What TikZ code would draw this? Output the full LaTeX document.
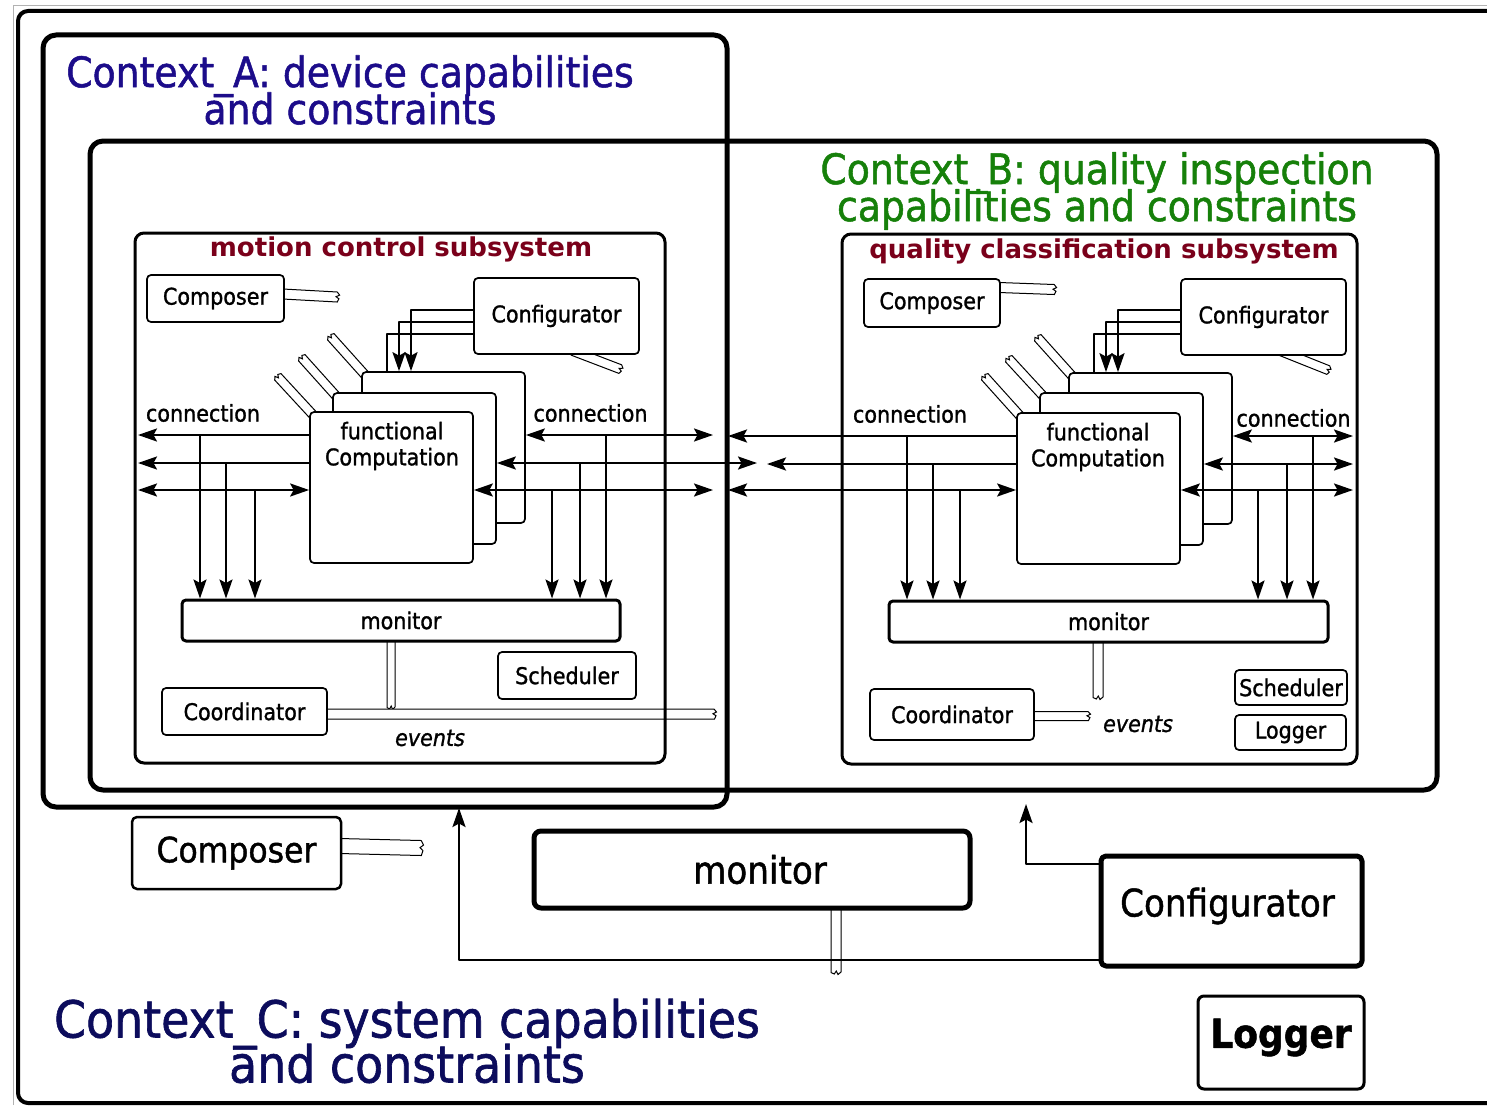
\documentclass[tikz,border=0pt]{standalone}
\usepackage{fontspec}
\setmainfont{DejaVu Sans Condensed}[FakeBold=1.2]
\newfontfamily\widefont{DejaVu Sans}
\usetikzlibrary{arrows.meta,calc}
\pgfdeclarelayer{sig}
\pgfsetlayers{sig,main}
\definecolor{ctxA}{RGB}{28,12,138}
\definecolor{ctxB}{RGB}{22,128,10}
\definecolor{ctxC}{RGB}{12,12,92}
\definecolor{subred}{RGB}{122,0,26}
\newcommand\fsz[1]{\fontsize{#1}{#1}\selectfont}
\newcommand\tightfont[2]{\fontsize{#1}{#2}\selectfont\lineskiplimit=-100pt\relax}
% double-line signal band with a torn end: [half width]{start}{end}
\newcommand\sigband[3][4.5]{%
  \draw[band] let \p1=($(#3)-(#2)$), \n1={atan2(\y1,\x1)} in
    ($(#2)+(\n1+90:#1pt)$) -- ($(#3)+(\n1+90:#1pt)$)
    -- ($(#3)+(\n1:2.5pt)+(\n1+90:0.4*#1pt)$)
    -- ($(#3)+(\n1:-1pt)+(\n1+90:0.05*#1pt)$)
    -- ($(#3)+(\n1:2pt)+(\n1-90:0.35*#1pt)$)
    -- ($(#3)+(\n1:0.5pt)+(\n1-90:#1pt)$)
    -- ($(#2)+(\n1-90:#1pt)$);}

\begin{document}
\begin{tikzpicture}[x=1pt,y=-1pt,line join=round,
  >={Stealth[length=19pt,width=13pt,inset=3.5pt]},
  ctx/.style={draw,line width=5pt,rounded corners=13pt},
  subsys/.style={draw,line width=3pt,rounded corners=9pt,inner sep=0pt},
  sbox/.style={draw,line width=1.7pt,rounded corners=4pt,fill=white,inner sep=0pt,text=black,font=\fsz{23}},
  mon/.style={sbox,line width=3pt,rounded corners=4pt},
  wh/.style 2 args={minimum width=#1,minimum height=#2},
  conn/.style={line width=2.3pt},
  band/.style={line width=1pt,fill=white},
  lbl/.style={inner sep=0pt,font=\fsz{23}},
  ctitle/.style={inner sep=0pt,align=center},
  stitle/.style={inner sep=0pt,font=\widefont\bfseries\fsz{26},text=subred}]
\useasboundingbox (0,0) rectangle (1487,1105);

% Context_C frame
\draw[gray!60,line width=1pt] (13.5,1105) -- (13.5,5.5) -- (1487,5.5);
\draw[line width=4pt,rounded corners=10pt] (18,11) rectangle (1540,1103);

% Context_A and Context_B frames
\draw[ctx] (43,35) rectangle (727,807);
\draw[ctx] (90,141) rectangle (1437,790);

\node[ctitle,text=ctxA,font=\tightfont{42}{37}] (titleA) at (350,90)
  {Context\_A: device capabilities\\and constraints};
\node[ctitle,text=ctxB,font=\tightfont{42}{37}] (titleB) at (1097,191)
  {Context\_B: quality inspection\\capabilities and constraints};
\node[ctitle,text=ctxC,font=\tightfont{51}{45}] (titleC) at (407,1041)
  {Context\_C: system capabilities\\and constraints};

% ---------- motion control subsystem ----------
\node[subsys,wh={530}{530}] (lsub) at (400,498) {};
\node[stitle] (lsubt) at (401,249) {motion control subsystem};
\node[sbox,wh={137}{47}] (lcomp) at (215.5,298.5) {Composer};
\node[sbox,wh={165}{76}] (lcfg) at (556.5,316) {Configurator};
\node[sbox,wh={163}{151}] (lback) at (443.5,447.5) {};
\node[sbox,wh={163}{151}] (lmid) at (414.5,468.5) {};
\node[sbox,wh={163}{151}] (lfront) at (391.5,487.5) {};
\node[lbl,align=center,font=\fontsize{23}{26}\selectfont] (lftxt) at (392,446) {functional\\Computation};
\node[mon,wh={438}{41}] (lmon) at (401,620.5) {monitor};
\node[sbox,wh={138}{47}] (lsched) at (567,675.5) {Scheduler};
\node[sbox,wh={165}{47}] (lcoord) at (244.5,711.5) {Coordinator};
\node[lbl] (lconnL) at (203,413) {connection};
\node[lbl] (lconnR) at (590.5,413) {connection};
\node[lbl,font=\itshape\fsz{23}] (levents) at (430,738) {events};

% ---------- quality classification subsystem ----------
\node[subsys,wh={515}{530}] (rsub) at (1099.5,499) {};
\node[stitle] (rsubt) at (1104,251) {quality classification subsystem};
\node[sbox,wh={136}{48}] (rcomp) at (932,303) {Composer};
\node[sbox,wh={165}{76}] (rcfg) at (1263.5,317) {Configurator};
\node[sbox,wh={163}{151}] (rback) at (1150.5,448.5) {};
\node[sbox,wh={163}{152}] (rmid) at (1121.5,469) {};
\node[sbox,wh={163}{151}] (rfront) at (1098.5,488.5) {};
\node[lbl,align=center,font=\fontsize{23}{26}\selectfont] (rftxt) at (1098,447) {functional\\Computation};
\node[mon,wh={439}{41}] (rmon) at (1108.5,621.5) {monitor};
\node[sbox,wh={164}{51}] (rcoord) at (952,714.5) {Coordinator};
\node[sbox,wh={112}{35}] (rsched) at (1291,687.5) {Scheduler};
\node[sbox,wh={111}{35}] (rlog) at (1290.5,732.5) {Logger};
\node[lbl] (rconnL) at (910,414) {connection};
\node[lbl] (rconnR) at (1293.5,418) {connection};
\node[lbl,font=\itshape\fsz{23}] (revents) at (1138,724) {events};

% ---------- system level ----------
\node[sbox,line width=2.5pt,rounded corners=5pt,wh={209}{72},font=\fsz{35}] (ccomp) at (236.5,853) {Composer};
\node[sbox,line width=5pt,rounded corners=7pt,wh={436}{77},font=\fsz{38}] (cmon) at (752,869.5) {\hspace*{16pt}monitor};
\node[sbox,line width=5pt,rounded corners=5pt,wh={261}{110},
  label={[name=ccfgtxt,font=\fsz{38},yshift=5pt,xshift=-4pt]center:Configurator}] (ccfg) at (1231.5,911) {};
\node[sbox,line width=3pt,rounded corners=6pt,wh={166}{93},
  label={[name=clogtxt,font=\bfseries\fsz{40},yshift=5pt]center:Logger}] (clog) at (1281,1042.5) {};

% ---------- signal bands ----------
\coordinate (lcompS) at ($(lcomp.east)+(-2,-4.5)$);   \coordinate (lcompZ) at (337,297);
\coordinate (lcfgS) at ($(lcfg.south)+(16,-4)$);      \coordinate (lcfgZ) at (620,369);
\coordinate (lbackS) at ($(lback.north west)+(5,5)$); \coordinate (lbackZ) at (331,337);
\coordinate (lmidS) at ($(lmid.north west)+(5,5)$);   \coordinate (lmidZ) at (302,358);
\coordinate (lfrontS) at ($(lfront.north west)+(5,5)$); \coordinate (lfrontZ) at (278,377);
\coordinate (lmonS) at ($(lmon.south)+(-10,-3)$);     \coordinate (lmonZ) at (391,707);
\coordinate (lcoordS) at ($(lcoord.east)+(-3,2.5)$);  \coordinate (lcoordZ) at (714,714);
\coordinate (rcompS) at ($(rcomp.east)+(-2,-15.5)$);  \coordinate (rcompZ) at (1054,289.5);
\coordinate (rcfgS) at ($(rcfg.south)+(16.5,-5)$);    \coordinate (rcfgZ) at (1328,370);
\coordinate (rbackS) at ($(rback.north west)+(5,5)$); \coordinate (rbackZ) at (1038,338);
\coordinate (rmidS) at ($(rmid.north west)+(5,5)$);   \coordinate (rmidZ) at (1009,359);
\coordinate (rfrontS) at ($(rfront.north west)+(5,5)$); \coordinate (rfrontZ) at (985,377);
\coordinate (rmonS) at ($(rmon.south)+(-10.5,-3)$);   \coordinate (rmonZ) at (1098,697);
\coordinate (rcoordS) at ($(rcoord.east)+(-3,1.5)$);  \coordinate (rcoordZ) at (1088,716);
\coordinate (ccompS) at ($(ccomp.east)+(-3,-7)$);     \coordinate (ccompZ) at (421,848);
\coordinate (cmonS) at ($(cmon.south)+(84,-3)$);      \coordinate (cmonZ) at (836,972);
\begin{pgfonlayer}{sig}
  \sigband[5]{lcompS}{lcompZ}
  \sigband{lcfgS}{lcfgZ}
  \sigband{lbackS}{lbackZ}
  \sigband{lmidS}{lmidZ}
  \sigband{lfrontS}{lfrontZ}
  \sigband[4]{lmonS}{lmonZ}
  \sigband[5]{lcoordS}{lcoordZ}
  \sigband[5]{rcompS}{rcompZ}
  \sigband{rcfgS}{rcfgZ}
  \sigband{rbackS}{rbackZ}
  \sigband{rmidS}{rmidZ}
  \sigband{rfrontS}{rfrontZ}
  \sigband[5]{rmonS}{rmonZ}
  \sigband{rcoordS}{rcoordZ}
  \sigband[7.5]{ccompS}{ccompZ}
  \sigband[5]{cmonS}{cmonZ}
\end{pgfonlayer}

% ---------- configurator links into the computation stack ----------
\draw[conn,->] ($(lcfg.west)+(0,-6)$) -| ($(lback.north)+(-32.5,0)$);
\draw[conn,->] ($(lcfg.west)+(0,6)$) -| ($(lback.north)+(-44.5,0)$);
\draw[conn] ($(lcfg.west)+(0,18)$) -| ($(lback.north)+(-56.5,0)$);
\draw[conn,->] ($(rcfg.west)+(0,-7)$) -| ($(rback.north)+(-32.5,0)$);
\draw[conn,->] ($(rcfg.west)+(0,5)$) -| ($(rback.north)+(-44.5,0)$);
\draw[conn] ($(rcfg.west)+(0,17)$) -| ($(rback.north)+(-56.5,0)$);

% ---------- connections, motion control ----------
\coordinate (lrow1) at (0,435); \coordinate (lrow2) at (0,463); \coordinate (lrow3) at (0,490);
\coordinate (lin) at (138,0);
\coordinate (lx1) at (713,435); \coordinate (lx2) at (757,463); \coordinate (lx3) at (713,490);
\draw[conn,->] (lfront.west |- lrow1) -- (lin |- lrow1);
\draw[conn,->] (lfront.west |- lrow2) -- (lin |- lrow2);
\draw[conn,<->] (lin |- lrow3) -- (lfront.west |- lrow3);
\draw[conn,<->] (lback.east |- lrow1) -- (lx1);
\draw[conn,<->] (lmid.east |- lrow2) -- (lx2);
\draw[conn,<->] (lfront.east |- lrow3) -- (lx3);
\foreach \x/\r in {200/1,226/2,255/3,606/1,580/2,552/3}
  \draw[conn,->] (\x,0 |- lrow\r) -- (\x,0 |- lmon.north);

% ---------- connections, quality classification ----------
\coordinate (rrow1) at (0,436); \coordinate (rrow2) at (0,464); \coordinate (rrow3) at (0,490);
\coordinate (rin) at (1353,0);
\coordinate (rx1) at (728,436); \coordinate (rx2) at (767,464); \coordinate (rx3) at (728,490);
\draw[conn,->] (rfront.west |- rrow1) -- (rx1);
\draw[conn,->] (rfront.west |- rrow2) -- (rx2);
\draw[conn,<->] (rx3) -- (rfront.west |- rrow3);
\draw[conn,<->] (rback.east |- rrow1) -- (rin |- rrow1);
\draw[conn,<->] (rmid.east |- rrow2) -- (rin |- rrow2);
\draw[conn,<->] (rfront.east |- rrow3) -- (rin |- rrow3);
\foreach \x/\r in {907/1,933/2,960/3,1313/1,1287/2,1258/3}
  \draw[conn,->] (\x,0 |- rrow\r) -- (\x,0 |- rmon.north);

% ---------- system configurator links ----------
\coordinate (cB) at (1026,804);
\coordinate (cA) at (459,808);
\draw[conn,->] ($(ccfg.west)+(0,-47)$) -| (cB);
\draw[conn,->] ($(ccfg.west)+(0,49)$) -| (cA);
\end{tikzpicture}
\end{document}
